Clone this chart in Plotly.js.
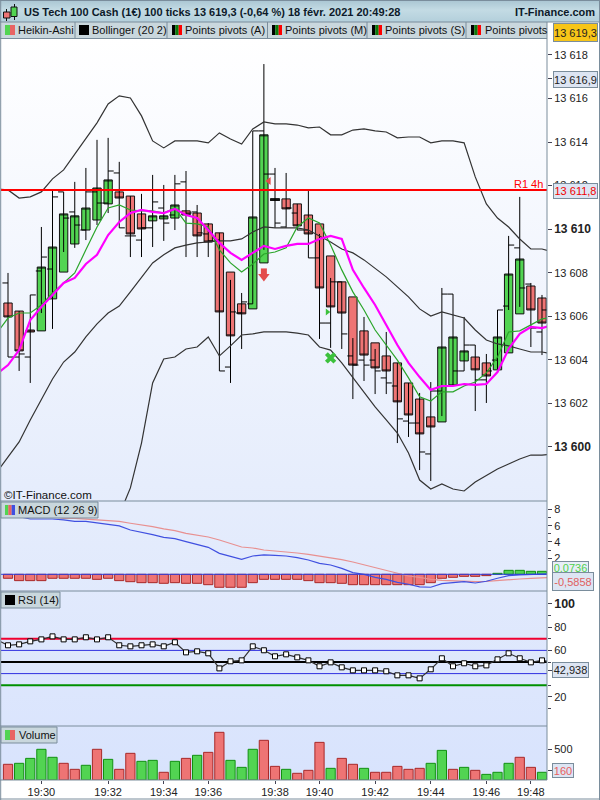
<!DOCTYPE html>
<html><head><meta charset="utf-8">
<script src="https://cdn.plot.ly/plotly-3.0.1.min.js"></script>
<style>
html,body{margin:0;padding:0;background:#fff;width:600px;height:800px;overflow:hidden}
#hdr{position:absolute;left:0;top:0;width:600px;height:22px;background:linear-gradient(#a9c5d2,#c3dbe4 45%,#b3cfdb)}
#leg{position:absolute;left:0;top:22px;width:547px;height:17px;background:#c9d7dd}
#pan{position:absolute;left:0;top:39px;width:547px;height:741px;background:linear-gradient(#ffffff,#e6edfc 60%,#d8e3fd)}
#plot{position:absolute;left:0;top:0;width:600px;height:800px}
</style></head><body>
<div id="hdr"></div><div id="leg"></div><div id="pan"></div><div id="plot"></div>
<script>
const timeTickIndex=[3,9,14,18,24,28,33,38,43,47];
const timeTickLabels=['19:30','19:32','19:34','19:36','19:38','19:40','19:42','19:44','19:46','19:48'];

// Heikin-Ashi bodies
const haOpen=[13606.61,13606.24,13605.37,13605.33,13606.80,13608.03,13609.32,13609.96,13610.42,13611.16,13611.71,13611.52,13610.70,13610.38,13610.47,13610.51,13610.84,13610.74,13610.24,13609.83,13608.03,13606.57,13606.34,13608.45,13611.39,13611.39,13611.16,13610.65,13610.24,13608.77,13607.58,13606.89,13605.33,13604.78,13604.18,13603.86,13602.94,13602.20,13601.38,13601.15,13602.85,13603.95,13604.13,13603.86,13603.54,13604.32,13606.11,13607.39,13606.84];
const haClose=[13605.97,13604.41,13605.28,13608.26,13609.18,13610.70,13610.61,13610.97,13611.89,13612.26,13611.43,13609.78,13610.01,13610.61,13610.61,13611.11,13610.65,13609.69,13609.41,13606.20,13605.10,13606.11,13610.56,13614.33,13611.34,13610.93,13610.15,13609.78,13607.30,13606.43,13606.15,13603.76,13604.22,13603.63,13603.49,13602.07,13601.47,13600.60,13600.92,13604.59,13605.05,13604.41,13603.54,13603.26,13605.05,13607.94,13608.63,13606.29,13605.69];
// Real ticks drawn over the bodies
const barOpen=[13607.53,13604.13,13604.13,13608.08,13608.17,13611.71,13610.79,13609.96,13611.71,13611.20,13612.58,13609.69,13609.50,13610.06,13610.97,13610.65,13612.17,13610.79,13609.78,13609.50,13603.67,13606.15,13606.57,13614.51,13612.53,13610.10,13610.74,13609.96,13608.68,13605.69,13607.58,13604.18,13603.99,13603.99,13603.17,13602.80,13601.19,13601.10,13599.68,13602.57,13607.02,13603.49,13604.68,13603.08,13603.99,13606.47,13609.14,13607.48,13605.28];
const barHigh=[13607.99,13606.24,13606.98,13610.10,13611.80,13611.71,13612.17,13612.81,13614.10,13614.19,13613.09,13611.52,13611.62,13612.49,13612.03,13612.49,13612.67,13611.11,13610.28,13609.83,13607.67,13607.07,13614.51,13617.58,13612.81,13612.58,13611.16,13611.75,13609.78,13607.76,13607.58,13605.00,13605.97,13604.50,13605.28,13603.86,13602.94,13602.48,13602.98,13607.30,13607.02,13605.97,13604.68,13604.27,13606.29,13609.69,13611.48,13607.53,13606.98];
const barLow=[13604.13,13603.49,13602.94,13606.15,13605.42,13608.95,13609.14,13609.50,13610.19,13610.74,13610.06,13608.72,13608.72,13609.18,13609.46,13609.96,13608.72,13608.72,13608.72,13603.49,13602.94,13604.50,13606.57,13609.05,13610.06,13610.06,13609.96,13608.68,13604.96,13604.55,13604.50,13602.20,13603.03,13602.43,13602.43,13600.18,13600.46,13598.94,13598.44,13601.42,13602.85,13603.49,13601.65,13602.02,13603.54,13606.29,13606.43,13604.59,13604.22];
const barClose=[13604.13,13604.27,13606.98,13608.72,13611.48,13610.51,13610.19,13611.71,13611.20,13612.67,13610.06,13609.69,13610.06,13611.25,13610.28,13612.08,13610.74,13609.83,13609.46,13603.49,13606.20,13606.66,13614.51,13612.53,13610.28,13610.97,13609.96,13608.68,13605.69,13607.58,13605.19,13603.76,13603.76,13603.49,13602.94,13601.29,13601.10,13599.77,13602.57,13607.02,13603.49,13604.68,13603.08,13603.49,13606.29,13609.27,13607.30,13605.46,13606.29];
const dojiIndex=[24], dojiOpen=[13611.39], dojiClose=[13611.33];

// Lines start one bar before the first candle and end one bar after the last
const lineIndex=[-1,0,1,2,3,4,5,6,7,8,9,10,11,12,13,14,15,16,17,18,19,20,21,22,23,24,25,26,27,28,29,30,31,32,33,34,35,36,37,38,39,40,41,42,43,44,45,46,47,48,49];
const bollUpper=[13611.85,13611.80,13611.43,13611.48,13611.71,13612.31,13612.72,13613.45,13614.19,13614.88,13615.75,13616.12,13616.02,13615.20,13614.05,13613.73,13614.05,13614.05,13614.05,13613.96,13614.42,13614.14,13613.91,13614.60,13614.92,13614.83,13614.83,13614.78,13614.65,13614.69,13614.33,13614.33,13614.55,13614.60,13614.51,13614.46,13614.19,13614.23,13614.23,13613.96,13614.05,13614.05,13613.96,13612.40,13611.16,13610.51,13610.10,13609.55,13609.09,13609.09,13608.95];
const bollMid=[13598.85,13599.54,13600.23,13601.24,13602.16,13603.12,13603.90,13604.36,13605.05,13605.65,13606.15,13606.47,13607.12,13607.81,13608.45,13608.82,13609.14,13609.27,13609.37,13609.41,13609.46,13609.46,13609.55,13609.87,13610.10,13610.06,13610.06,13610.06,13609.96,13609.69,13609.41,13609.09,13608.91,13608.59,13608.22,13607.81,13607.35,13606.89,13606.34,13606.01,13606.20,13606.06,13605.92,13605.37,13604.91,13604.73,13604.64,13604.50,13604.36,13604.36,13604.27];
const bollLower=[null,null,null,null,null,null,null,null,null,null,null,13596.88,13598.12,13600.18,13602.94,13604.04,13604.13,13604.50,13604.59,13605.05,13604.18,13604.64,13605.14,13605.19,13605.28,13605.28,13605.28,13605.23,13605.14,13604.59,13604.45,13603.86,13603.17,13602.53,13601.84,13601.24,13600.64,13599.72,13598.48,13598.07,13598.30,13598.07,13597.98,13598.39,13598.71,13598.99,13599.22,13599.45,13599.63,13599.63,13599.68];
const maSlow=[13603.35,13603.76,13604.45,13605.83,13606.43,13606.98,13607.53,13607.76,13608.40,13608.82,13609.73,13610.33,13610.74,13610.88,13610.79,13610.74,13610.93,13610.65,13610.51,13609.96,13609.37,13608.91,13608.59,13608.91,13609.23,13609.09,13609.23,13609.32,13609.32,13609.55,13609.69,13609.55,13608.13,13607.30,13606.52,13605.60,13604.68,13603.86,13603.21,13602.62,13602.80,13602.80,13602.89,13602.85,13602.89,13603.44,13604.50,13605.19,13605.51,13605.46,13605.60];
const maFast=[13605.23,13605.92,13606.15,13606.15,13606.52,13607.07,13607.53,13607.99,13609.05,13610.10,13610.97,13611.11,13610.88,13610.84,13610.84,13610.74,13610.97,13610.28,13610.24,13610.10,13609.05,13608.45,13608.03,13608.40,13608.86,13608.95,13609.14,13610.10,13610.51,13610.28,13609.27,13608.13,13607.12,13606.29,13605.37,13604.68,13603.99,13603.17,13602.30,13602.11,13602.53,13602.53,13602.80,13602.98,13603.40,13604.13,13605.28,13605.33,13605.60,13605.88,13605.97];
const pivotLine=13611.8;

const macdHist=[-0.49,-0.78,-0.78,-0.78,-0.49,-0.49,-0.49,-0.49,-0.62,-0.49,-0.78,-0.91,-1.03,-1.03,-1.11,-1.03,-1.11,-1.11,-1.28,-1.60,-1.60,-1.60,-1.03,-0.62,-0.62,-0.62,-0.62,-0.78,-1.03,-1.03,-1.11,-1.28,-1.28,-1.28,-1.28,-1.28,-1.28,-1.28,-1.03,-0.49,-0.37,-0.25,-0.25,-0.16,0.12,0.49,0.49,0.37,0.37];
const macdLine=[7.53,7.33,7.12,6.83,6.83,6.83,6.71,6.54,6.54,6.38,6.17,5.97,5.47,5.23,4.90,4.57,4.40,4.03,3.70,3.33,2.59,2.18,1.85,2.26,2.39,2.35,2.26,2.06,1.77,1.36,1.15,0.74,0.21,0,-0.37,-0.62,-0.99,-1.23,-1.56,-1.60,-1.15,-1.03,-0.91,-1.07,-0.86,-0.49,-0.16,-0.08,0,0,0.07];
const macdSignal=[8.0,7.8,7.6,7.45,7.3,7.1,6.91,6.91,6.83,6.75,6.67,6.54,6.30,6.13,5.88,5.60,5.39,5.06,4.86,4.61,4.24,3.79,3.37,3.25,3.00,2.88,2.80,2.63,2.47,2.26,2.02,1.81,1.52,1.19,0.82,0.53,0.21,-0.21,-0.37,-0.62,-0.74,-0.82,-0.86,-0.91,-0.86,-0.74,-0.66,-0.58,-0.49,-0.41,-0.37];
const rsiValues=[69.0,64.4,65.2,67.8,69.5,72.1,69.5,69.5,71.3,69.5,71.3,64.4,63.5,64.4,65.2,63.5,67.0,58.3,59.2,57.5,44.5,50.6,51.4,63.5,60.1,54.9,56.6,54.0,51.4,46.3,49.7,45.4,42.8,42.8,42.8,42.0,38.5,38.5,35.9,43.7,53.2,46.3,48.9,46.3,47.1,52.3,57.5,53.2,49.7,51.4,50.0];
const volumes=[253,269,349,495,366,269,172,237,495,333,172,430,301,317,124,301,349,398,446,769,317,204,495,640,220,172,108,156,607,188,349,253,188,124,124,220,172,188,269,478,172,204,156,91,124,269,366,204,124];
const volumeSide=['d','u','u','u','u','d','d','u','d','u','d','d','u','u','d','u','d','u','d','d','u','u','u','d','d','u','d','d','d','u','d','d','u','d','d','d','d','d','u','u','d','u','d','u','u','u','d','d','u'];

const priceTicks=[13618,13616,13614,13612,13610,13608,13606,13604,13602,13600,13616.9];
const priceLabels=['13 618','13 616','13 614','13 612','<b style="font-size:12px">13 610</b>','13 608','13 606','13 604','13 602','<b style="font-size:12px">13 600</b>',''];

const F='"Liberation Sans",Arial,sans-serif', FRAME='#7a8d9c';
const candleIndex=haOpen.map((_,i)=>i);
const X=p=>p/600, Y=p=>1-p/800;
const GREEN='#52d452',RED='#ee7474';

const traces=[
 {type:'candlestick',x:candleIndex,open:haOpen,close:haClose,high:haOpen.map((o,i)=>Math.max(o,haClose[i])),low:haOpen.map((o,i)=>Math.min(o,haClose[i])),
  increasing:{fillcolor:GREEN,line:{color:'#111',width:1}},decreasing:{fillcolor:RED,line:{color:'#111',width:1}},whiskerwidth:0,hoverinfo:'skip',showlegend:false},
 {type:'candlestick',x:dojiIndex,open:dojiOpen,close:dojiClose,high:dojiOpen,low:dojiClose,decreasing:{fillcolor:'#111',line:{color:'#111',width:1.5}},increasing:{fillcolor:'#111',line:{color:'#111',width:1.5}},hoverinfo:'skip',showlegend:false},
 {type:'ohlc',x:candleIndex,open:barOpen,high:barHigh,low:barLow,close:barClose,tickwidth:0.5,increasing:{line:{color:'#000',width:1}},decreasing:{line:{color:'#000',width:1}},hoverinfo:'skip',showlegend:false},
 {type:'scatter',mode:'lines',x:lineIndex,y:bollUpper,line:{color:'#333',width:1.2},hoverinfo:'skip'},
 {type:'scatter',mode:'lines',x:lineIndex,y:bollMid,line:{color:'#333',width:1.2},hoverinfo:'skip'},
 {type:'scatter',mode:'lines',x:lineIndex,y:bollLower,line:{color:'#333',width:1.2},hoverinfo:'skip'},
 {type:'scatter',mode:'lines',x:lineIndex,y:maFast,line:{color:'#2aa52a',width:1.2},hoverinfo:'skip'},
 {type:'scatter',mode:'lines',x:lineIndex,y:maSlow,line:{color:'#ff00ff',width:2.2},hoverinfo:'skip'},
 {type:'scatter',mode:'markers',x:[23],y:[13608.06],marker:{symbol:'square',size:6,color:'#e34b4b'},hoverinfo:'skip'},
 {type:'scatter',mode:'markers',x:[23],y:[13607.83],marker:{symbol:'triangle-down',size:10,color:'#e34b4b'},hoverinfo:'skip'},
 {type:'scatter',mode:'markers',x:[23.45],y:[13612.21],marker:{symbol:'triangle-left',size:7,color:'#e34b4b'},hoverinfo:'skip'},
 {type:'scatter',mode:'markers',x:[28.7],y:[13606.20],marker:{symbol:'triangle-right',size:6,color:'#3cc13c'},hoverinfo:'skip'},
 {type:'scatter',mode:'markers',x:[29],y:[13604.09],marker:{symbol:'x',size:10,color:'#3cc13c'},hoverinfo:'skip'},

 {type:'bar',x:candleIndex,y:macdHist,yaxis:'y2',marker:{color:macdHist.map(v=>v<0?RED:GREEN),line:{color:macdHist.map(v=>v<0?'#a82828':'#109010'),width:1}},hoverinfo:'skip'},
 {type:'scatter',mode:'lines',x:lineIndex,y:macdSignal,yaxis:'y2',line:{color:'#e89090',width:1.2},hoverinfo:'skip'},
 {type:'scatter',mode:'lines',x:lineIndex,y:macdLine,yaxis:'y2',line:{color:'#4050e0',width:1.2},hoverinfo:'skip'},

 {type:'scatter',mode:'lines+markers',x:lineIndex,y:rsiValues,yaxis:'y3',line:{color:'#333',width:1.2},marker:{symbol:'square',size:5,color:'#fff',line:{color:'#000',width:1}},hoverinfo:'skip'},

 {type:'bar',x:candleIndex,y:volumes,yaxis:'y4',marker:{color:volumeSide.map(s=>s==='u'?GREEN:RED),line:{color:volumeSide.map(s=>s==='u'?'#109010':'#a82828'),width:1}},hoverinfo:'skip'}
];

const rect=(x0,y0,x1,y1,fill,line)=>({type:'rect',xref:'paper',yref:'paper',x0:X(x0),x1:X(x1),y0:Y(y0),y1:Y(y1),fillcolor:fill||'rgba(0,0,0,0)',line:{color:line||'rgba(0,0,0,0)',width:line?1:0}});
const hl=(y,x0,x1,c,w)=>({type:'line',xref:'paper',yref:'paper',x0:X(x0),x1:X(x1),y0:Y(y),y1:Y(y),line:{color:c||FRAME,width:w||1}});
const vl=(x,y0,y1,c,w)=>({type:'line',xref:'paper',yref:'paper',x0:X(x),x1:X(x),y0:Y(y0),y1:Y(y1),line:{color:c||FRAME,width:w||1}});
const level=(ax,v,c,w,layer)=>({type:'line',xref:'paper',yref:ax,x0:X(1),x1:X(547),y0:v,y1:v,layer:layer||'below',line:{color:c,width:w}});
const swatch=(x,y,cols)=>cols.map((c,i)=>rect(x+i*10/cols.length,y,x+(i+1)*10/cols.length,y+10,c));

const shapes=[
 level('y',pivotLine,'#ff0000',2,'above'),
 level('y2',0,'#3040e0',1,'above'),
 level('y3',70,'#f0002f',2),level('y3',60,'#3030e0',1),level('y3',50,'#000',2),level('y3',40,'#3030e0',1),level('y3',30,'#009000',2),
 hl(0.5,0,600),hl(22,0,600),hl(38.5,0,547),hl(501,0,547),hl(591,0,547),hl(726,0,547),hl(780,0,547),hl(799,0,600),
 vl(0.7,0,800),vl(547,22,780),vl(599.5,0,800),
 vl(75,22,38),vl(167,22,38),vl(267.5,22,38),vl(367,22,38),vl(466,22,38),
 // title icon
 vl(6.5,9,21,'#111'),rect(3.5,12,10,18,'#ee7474','#111'),vl(14.5,4,20,'#111'),rect(11,7,17,16.5,'#52d452','#111'),
 ...swatch(5,25,['#52d452','#e86464']),...swatch(79,25,['#000']),
 ...swatch(172,25,['#000','#0a7a0a','#ff0000']),...swatch(272,25,['#000','#0a7a0a','#ff0000']),
 ...swatch(372,25,['#000','#0a7a0a','#ff0000']),...swatch(471,25,['#000','#0a7a0a','#ff0000']),
 rect(1,502,98,518,'#c9d7dd',FRAME),...swatch(5,505,['#52d452','#e86464','#4050e0']),
 rect(1,592,60,608,'#c9d7dd',FRAME),...swatch(5,595,['#000']),
 rect(1,727,57,743,'#c9d7dd',FRAME),...swatch(5,730,['#52d452','#e86464'])
];

const txt=(text,x,y,o={})=>Object.assign({text,xref:'paper',yref:'paper',x:X(x),y:Y(y),xanchor:'left',yanchor:'middle',showarrow:false,font:{family:F,size:11,color:'#111'},borderpad:0},o);
const tag=(text,x0,x1,y0,y1,bg,col)=>({text,xref:'paper',yref:'paper',x:X(x0),y:Y((y0+y1)/2),xanchor:'left',yanchor:'middle',showarrow:false,align:'center',width:x1-x0-1,height:y1-y0-1,bgcolor:bg,bordercolor:FRAME,borderwidth:1,borderpad:0,font:{family:F,size:11,color:col}});
const annotations=[
 txt('<b>US Tech 100 Cash (1€) 100 ticks 13 619,3 (-0,64 %) 18 févr. 2021 20:49:28</b>',23,12,{font:{family:F,size:11,color:'#0d1a2a'}}),
 txt('<b>IT-Finance.com</b>',596,12,{xanchor:'right',font:{family:F,size:11,color:'#0d1a2a'}}),
 txt('Heikin-Ashi',17,30),txt('Bollinger (20 2)',91,30),txt('Points pivots (A)',184,30),txt('Points pivots (M)',284,30),txt('Points pivots (S)',384,30),txt('Points pivots',484,30),
 txt('MACD (12 26 9)',17,510),txt('RSI (14)',17,600),txt('Volume',18,735),
 txt('R1 4h',513,184,{font:{family:F,size:11,color:'#ff0000'}}),
 txt('©IT-Finance.com',3,495,{font:{family:F,size:11.5,color:'#111'}}),
 tag('13 619,3',553,597,23,41,'#f7c518','#222'),
 tag('13 616,9',553,597,71,87,'#dde5f3','#222'),
 tag('13 611,8',553,597,183,198,'#dde5f3','#f00000'),
 tag('0,0736',552,588,561,574,'#e8eef8','#4fd04f'),
 tag('-0,5858',552,593,572,590,'#dde5f3','#e06060'),
 tag('42,938',552,588,662,677,'#dde5f3','#222'),
 tag('160',552,573,763,777,'#dde5f3','#e86060')
];

const yBase={side:'right',anchor:'x',showgrid:false,zeroline:false,showline:false,ticks:'outside',ticklen:4,tickcolor:'#445',tickwidth:1,tickfont:{family:F,size:11,color:'#222'},tickmode:'array',fixedrange:true,ticklabelstandoff:0};
const layout={
 width:600,height:800,margin:{l:0,r:0,t:0,b:0},paper_bgcolor:'rgba(0,0,0,0)',plot_bgcolor:'rgba(0,0,0,0)',showlegend:false,
 boxgap:0.25,boxgroupgap:0,bargap:0.17,boxmode:'overlay',
 xaxis:{domain:[X(1),X(547)],range:[-0.63,48.45],anchor:'y4',showgrid:false,zeroline:false,showline:false,rangeslider:{visible:false},
   tickmode:'array',tickvals:timeTickIndex,ticktext:timeTickLabels,ticks:'outside',ticklen:3,tickcolor:'#445',tickfont:{family:F,size:11,color:'#222'},fixedrange:true,ticklabelstandoff:-1},
 yaxis:Object.assign({},yBase,{domain:[Y(501),Y(39)],range:[13597.52,13618.73],tickvals:priceTicks,ticktext:priceLabels}),
 yaxis2:Object.assign({},yBase,{domain:[Y(591),Y(501)],range:[-2.06,9.05],tickvals:[8,6,4,2],ticktext:['8','6','4','2'],minor:{tickvals:[7,5,3],ticks:'outside',ticklen:3,tickcolor:'#445'}}),
 yaxis3:Object.assign({},yBase,{domain:[Y(726),Y(591)],range:[-5.17,111.2],tickvals:[100,80,60,20,42.938],ticktext:['<b style="font-size:12.5px">100</b>','80','60','20',''],minor:{tickvals:[90,70,50,30,10],ticks:'outside',ticklen:3,tickcolor:'#445'}}),
 yaxis4:Object.assign({},yBase,{domain:[Y(780),Y(726)],range:[0,871],tickvals:[500,160],ticktext:['500','']}),
 shapes,annotations
};
Plotly.newPlot('plot',traces,layout,{staticPlot:true,displayModeBar:false});
</script></body></html>
